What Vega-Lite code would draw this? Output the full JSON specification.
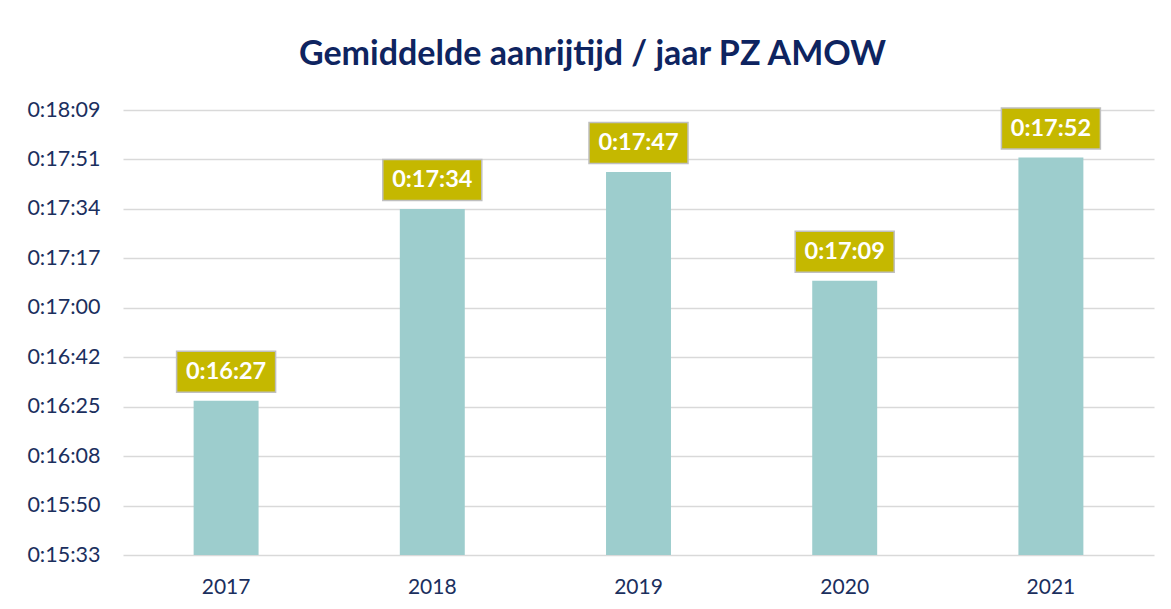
{
  "$schema": "https://vega.github.io/schema/vega-lite/v6.json",
  "width": 1031,
  "height": 445,
  "autosize": {"type": "none"},
  "padding": {"left": 123, "top": 110, "right": 17, "bottom": 54},
  "background": "white",
  "title": {
    "text": "Gemiddelde aanrijtijd / jaar PZ AMOW",
    "anchor": "middle",
    "dx": -46,
    "offset": 27,
    "font": "Lato",
    "fontSize": 34,
    "fontWeight": "bold",
    "color": "#0E2460"
  },
  "config": {
    "view": {"stroke": null},
    "font": "Lato"
  },
  "data": {
    "values": [
      {"jaar": "2017", "seconden": 987, "label": "0:16:27"},
      {"jaar": "2018", "seconden": 1054, "label": "0:17:34"},
      {"jaar": "2019", "seconden": 1067, "label": "0:17:47"},
      {"jaar": "2020", "seconden": 1029, "label": "0:17:09"},
      {"jaar": "2021", "seconden": 1072, "label": "0:17:52"}
    ]
  },
  "encoding": {
    "x": {
      "field": "jaar",
      "type": "nominal",
      "title": null,
      "scale": {"paddingInner": 0.685, "paddingOuter": 0.3425},
      "axis": {
        "labelAngle": 0,
        "ticks": false,
        "domain": false,
        "labelFont": "Lato",
        "labelFontSize": 21,
        "labelColor": "#1B2F5E",
        "labelPadding": 21
      }
    },
    "y": {
      "field": "seconden",
      "type": "quantitative",
      "title": null,
      "scale": {"domain": [933.12, 1088.64], "zero": false, "nice": false},
      "axis": {
        "values": [933.12, 950.4, 967.68, 984.96, 1002.24, 1019.52, 1036.8, 1054.08, 1071.36, 1088.64],
        "labelExpr": "'0:' + floor(round(datum.value) / 60) + ':' + (round(datum.value) % 60 < 10 ? '0' : '') + (round(datum.value) % 60)",
        "ticks": false,
        "domain": false,
        "grid": true,
        "gridColor": "#D9D9D9",
        "gridWidth": 1.5,
        "labelFont": "Lato",
        "labelFontSize": 21.5,
        "labelColor": "#1B2F5E",
        "labelPadding": 23
      }
    }
  },
  "layer": [
    {
      "mark": {"type": "bar", "color": "#9DCDCD", "clip": true}
    },
    {
      "mark": {
        "type": "point",
        "shape": "M-1,-0.414L1,-0.414L1,0.414L-1,0.414Z",
        "size": 9801,
        "filled": true,
        "fill": "#C5B800",
        "stroke": "#BFBFBF",
        "strokeWidth": 1.5,
        "opacity": 1,
        "yOffset": -29
      }
    },
    {
      "mark": {
        "type": "text",
        "color": "white",
        "font": "Lato",
        "fontSize": 23.5,
        "fontWeight": "bold",
        "baseline": "middle",
        "dy": -29
      },
      "encoding": {"text": {"field": "label"}}
    }
  ]
}
